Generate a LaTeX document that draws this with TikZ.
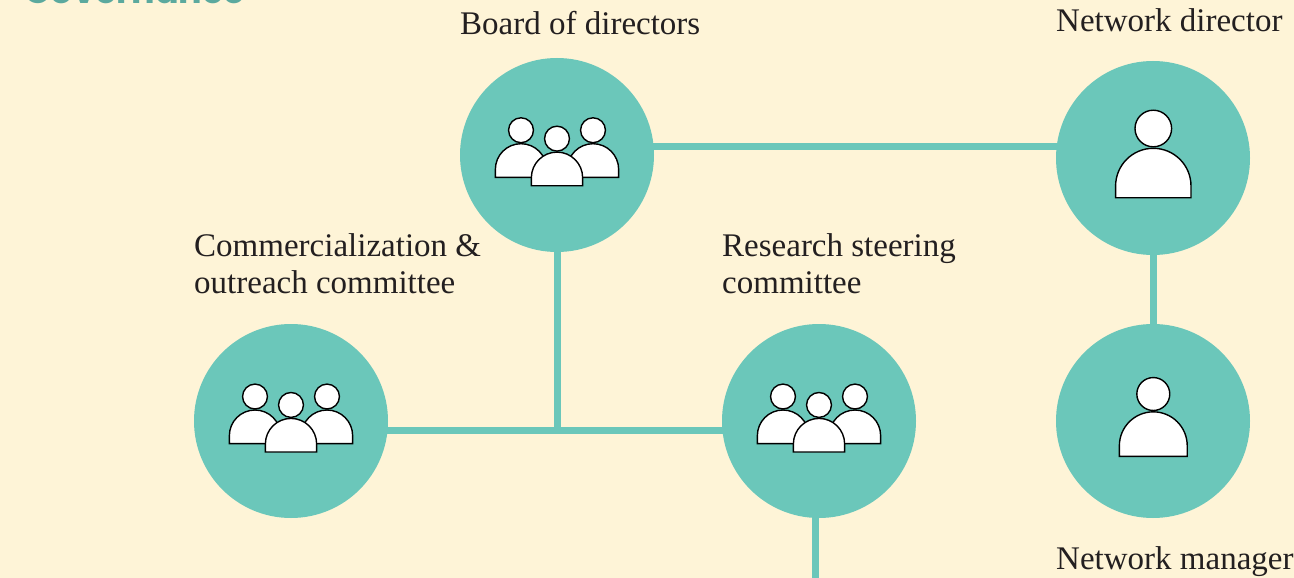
\documentclass[tikz,border=0pt]{standalone}
\usepackage{fontspec}
\usetikzlibrary{backgrounds}
\setmainfont{Liberation Serif}
\newfontfamily\titlefont{Poppins}
\definecolor{paper}{HTML}{FEF4D7}
\definecolor{teal}{HTML}{6BC7BA}
\definecolor{ink}{HTML}{231F20}
\tikzset{
  member/.style={circle, fill=teal, minimum size=194pt, inner sep=0pt, outer sep=0pt},
  caption/.style={anchor=base west, inner sep=0pt, text=ink, align=left, font=\fontsize{33}{37}\selectfont},
  link/.style={draw=teal, line width=7pt},
  person/.pic={
    \draw[fill=white, draw=black, line width=1.4pt] (-37.7,0) -- (-37.7,-11.7) arc[start angle=180, end angle=360, radius=37.7] -- (37.7,0) -- cycle;
    \draw[fill=white, draw=black, line width=1.4pt] (0,-69.2) circle[radius=18.3];
  },
  group/.pic={
    \pic[scale=.68] at (-36,-8.4) {person};
    \pic[scale=.68] at (36,-8.4) {person};
    \pic[scale=.68] at (0,0) {person};
  }
}
\begin{document}
\begin{tikzpicture}[x=1pt, y=-1pt]
        \useasboundingbox (0,0) rectangle (1294,578);
        \clip (0,0) rectangle (1294,578);
        \node[anchor=base west, inner sep=0pt, text=teal!85!black, font=\titlefont\bfseries\fontsize{35}{35}\selectfont] (title) at (24,3.5) {Governance};
        \node[member] (board) at (557,155) {};
        \node[member] (director) at (1153,158) {};
        \node[member] (manager) at (1153,421) {};
        \node[member] (commercial) at (291,421) {};
        \node[member] (research) at (819,421) {};
        \coordinate (toprow) at (0,146);
        \coordinate (junction) at (557,430);
        \coordinate (exit) at (815,578);
        \begin{scope}[on background layer]
        \fill[paper] (0,0) rectangle (1294,578);
        \draw[link] (board |- toprow) -- (director |- toprow);
        \draw[link] (board) -- (junction);
        \draw[link] (commercial |- junction) -- (research |- junction);
        \draw[link] (director) -- (manager);
        \draw[link] (exit |- research) -- (exit);
        \end{scope}
        \pic at (557,185.7) {group};
        \pic at (291,452) {group};
        \pic at (819,452) {group};
        \pic at (1153.3,197.7) {person};
        \pic[scale=.9] at (1153.3,456.3) {person};
        \node[caption] (boardlabel) at (460,35) {Board of directors};
        \node[caption] (directorlabel) at (1056,32) {Network director};
        \node[caption] (commerciallabel) at (194,293) {Commercialization \&\\outreach committee};
        \node[caption] (researchlabel) at (722,293) {Research steering\\committee};
        \node[caption] (managerlabel) at (1056,569) {Network manager};
\end{tikzpicture}
\end{document}
